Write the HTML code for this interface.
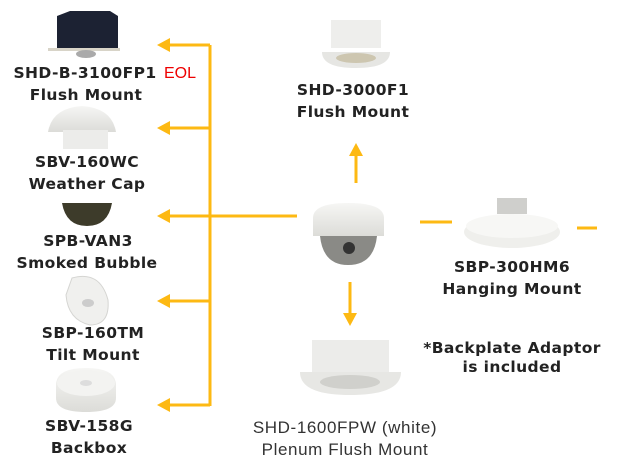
<!DOCTYPE html>
<html><head><style>
html,body{margin:0;padding:0;background:#fff;}
svg{display:block;}
text{font-family:"Liberation Sans",Arial,sans-serif;}
.b{font-family:"DejaVu Sans","Liberation Sans",sans-serif;font-weight:bold;font-size:15.5px;letter-spacing:0.4px;fill:#222;text-anchor:middle;}
.n{font-size:17px;letter-spacing:0.6px;fill:#333;text-anchor:middle;}
</style></head><body>
<svg width="619" height="466" viewBox="0 0 619 466" xmlns="http://www.w3.org/2000/svg">
<defs>
<linearGradient id="wg" x1="0" y1="0" x2="0" y2="1"><stop offset="0" stop-color="#f6f6f4"/><stop offset="1" stop-color="#dcdcd8"/></linearGradient>
</defs>
<g stroke="#FDB913" stroke-width="3" fill="none">
<line x1="210" y1="45" x2="210" y2="406"/>
<line x1="165" y1="45" x2="210" y2="45"/>
<line x1="165" y1="128" x2="210" y2="128"/>
<line x1="165" y1="216" x2="297" y2="216"/>
<line x1="165" y1="301" x2="210" y2="301"/>
<line x1="165" y1="405" x2="210" y2="405"/>
<line x1="356" y1="183" x2="356" y2="152"/>
<line x1="350" y1="282" x2="350" y2="316"/>
<line x1="420" y1="222" x2="452" y2="222"/>
<line x1="577" y1="228" x2="597" y2="228"/>
</g>
<g fill="#FDB913">
<polygon points="157,45 170,38 170,52"/>
<polygon points="157,128 170,121 170,135"/>
<polygon points="157,216 170,209 170,223"/>
<polygon points="157,301 170,294 170,308"/>
<polygon points="157,405 170,398 170,412"/>
<polygon points="356,143 349,156 363,156"/>
<polygon points="350,326 343,313 357,313"/>
</g>
<path d="M57,16 L70,11 L110,11 L118,16 L118,48 L57,48Z" fill="#1c2233"/>
<rect x="48" y="48" width="72" height="3" fill="#d8d4c8"/>
<ellipse cx="86" cy="54" rx="10" ry="4" fill="#aaa"/>
<path d="M48,132 Q52,108 82,106 Q112,108 116,132Z" fill="url(#wg)"/>
<rect x="63" y="130" width="45" height="19" fill="#ececea"/>
<path d="M62,203 L112,203 Q108,226 87,226 Q66,226 62,203Z" fill="#3d3b2a"/>
<path d="M72,278 Q100,270 108,300 Q110,325 90,325 Q68,320 66,295Z" fill="#f0f0ee" stroke="#d5d5d2"/>
<ellipse cx="88" cy="303" rx="6" ry="4" fill="#ccc"/>
<path d="M56,385 Q56,368 86,368 Q116,368 116,385 L116,398 Q116,412 86,412 Q56,412 56,398Z" fill="url(#wg)"/>
<ellipse cx="86" cy="383" rx="29" ry="13" fill="#f3f3f1"/>
<ellipse cx="86" cy="383" rx="6" ry="3" fill="#ddd"/>
<rect x="331" y="20" width="50" height="28" fill="#eeeeec"/>
<path d="M322,52 L390,52 Q390,68 356,68 Q322,68 322,52Z" fill="#e6e6e3"/>
<ellipse cx="356" cy="58" rx="20" ry="5" fill="#cdc6b0"/>
<path d="M313,218 Q313,203 348,203 Q384,203 384,218 L384,236 L313,236Z" fill="url(#wg)"/>
<path d="M320,236 L377,236 Q374,265 348,265 Q323,265 320,236Z" fill="#8a8a86"/>
<circle cx="349" cy="248" r="6" fill="#333"/>
<rect x="497" y="198" width="30" height="16" fill="#cfcfcc"/>
<ellipse cx="512" cy="232" rx="48" ry="16" fill="#efefec"/>
<ellipse cx="512" cy="226" rx="46" ry="12" fill="#f7f7f5"/>
<rect x="312" y="340" width="77" height="33" fill="#ececea"/>
<path d="M300,372 L401,372 Q401,395 350,395 Q300,395 300,372Z" fill="#e7e7e4"/>
<ellipse cx="350" cy="382" rx="30" ry="7" fill="#d0d0cc"/>
<text class="b" x="85" y="78">SHD-B-3100FP1</text>
<text x="164" y="78" font-size="16" fill="#e00">EOL</text>
<text class="b" x="86" y="100">Flush Mount</text>
<text class="b" x="87" y="167">SBV-160WC</text>
<text class="b" x="87" y="189">Weather Cap</text>
<text class="b" x="88" y="246">SPB-VAN3</text>
<text class="b" x="87" y="268">Smoked Bubble</text>
<text class="b" x="93" y="338">SBP-160TM</text>
<text class="b" x="93" y="360">Tilt Mount</text>
<text class="b" x="89" y="431">SBV-158G</text>
<text class="b" x="89" y="453">Backbox</text>
<text class="b" x="353" y="95">SHD-3000F1</text>
<text class="b" x="353" y="117">Flush Mount</text>
<text class="b" x="512" y="272">SBP-300HM6</text>
<text class="b" x="512" y="294">Hanging Mount</text>
<text class="b" x="512" y="353">*Backplate Adaptor</text>
<text class="b" x="512" y="372">is included</text>
<text class="n" x="345" y="433">SHD-1600FPW (white)</text>
<text class="n" x="345" y="455">Plenum Flush Mount</text>
</svg>
</body></html>
